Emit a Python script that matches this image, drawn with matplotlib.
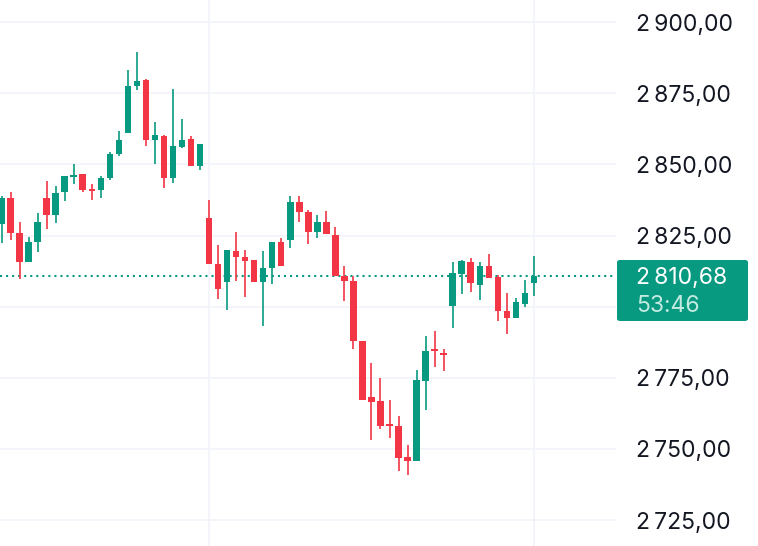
import matplotlib.pyplot as plt
import numpy as np
from matplotlib.patches import FancyBboxPatch

# candle data (index = bar number)
opens = [2829.0, 2838.3, 2825.8, 2815.6, 2822.9, 2838.1, 2832.2, 2840.4, 2845.6, 2846.5,
         2841.3, 2841.0, 2845.1, 2853.6, 2861.2, 2877.5, 2879.7, 2858.5, 2860.0, 2845.1,
         2856.1, 2858.8, 2849.4, 2831.3, 2815.1, 2808.6, 2819.7, 2817.4, 2816.3, 2808.6,
         2813.6, 2822.6, 2823.5, 2836.9, 2833.2, 2826.2, 2829.7, 2825.2, 2810.9, 2809.2,
         2787.9, 2768.1, 2766.7, 2758.8, 2758.2, 2747.2, 2745.6, 2774.0, 2785.3, 2783.9,
         2800.2, 2811.6, 2815.6, 2807.8, 2814.2, 2810.5, 2798.4, 2796.1, 2801.1, 2808.4]
highs = [2839.0, 2840.4, 2829.9, 2824.4, 2833.0, 2844.1, 2842.4, 2846.0, 2850.3, 2846.8,
         2843.0, 2846.0, 2854.3, 2861.7, 2883.2, 2889.6, 2880.0, 2864.9, 2860.2, 2876.5,
         2865.8, 2859.9, 2857.3, 2837.5, 2821.7, 2820.0, 2826.4, 2819.8, 2816.3, 2819.7,
         2822.6, 2824.3, 2838.9, 2838.9, 2834.0, 2832.2, 2833.6, 2828.1, 2814.4, 2810.7,
         2787.9, 2780.1, 2775.1, 2767.2, 2761.7, 2751.5, 2777.7, 2789.7, 2791.4, 2785.3,
         2815.6, 2816.3, 2817.1, 2815.6, 2818.6, 2811.0, 2804.9, 2803.1, 2809.5, 2817.7]
lows = [2822.3, 2823.4, 2809.8, 2815.6, 2819.1, 2827.2, 2829.3, 2837.2, 2843.1, 2840.2,
        2837.5, 2838.3, 2844.7, 2852.9, 2861.2, 2876.3, 2856.4, 2850.3, 2841.6, 2843.5,
        2855.9, 2849.4, 2848.2, 2815.0, 2802.8, 2798.7, 2808.9, 2803.5, 2808.6, 2793.2,
        2808.1, 2814.2, 2820.6, 2829.7, 2822.0, 2824.3, 2825.5, 2810.9, 2801.9, 2785.0,
        2767.3, 2753.0, 2757.1, 2753.9, 2742.1, 2741.0, 2745.6, 2763.8, 2778.8, 2777.4,
        2792.6, 2804.6, 2805.2, 2802.3, 2810.1, 2794.9, 2790.3, 2796.1, 2799.8, 2803.9]
closes = [2838.3, 2825.8, 2815.6, 2822.9, 2829.9, 2832.2, 2840.0, 2845.9, 2846.3, 2841.0,
          2840.7, 2845.4, 2853.8, 2858.5, 2877.7, 2879.4, 2858.5, 2860.2, 2845.1, 2856.4,
          2858.7, 2849.4, 2857.3, 2815.0, 2806.3, 2819.8, 2817.4, 2815.9, 2808.6, 2813.6,
          2822.6, 2814.2, 2836.9, 2833.2, 2826.2, 2829.7, 2825.5, 2810.9, 2808.9, 2787.9,
          2767.3, 2766.6, 2758.2, 2758.0, 2746.8, 2745.6, 2774.2, 2784.4, 2784.3, 2783.0,
          2811.9, 2815.9, 2808.4, 2814.2, 2810.1, 2798.4, 2796.1, 2801.6, 2804.9, 2810.68]

price_ticks = [2725, 2750, 2775, 2800, 2825, 2850, 2875, 2900]
price_labels = ["2\u2009725,00", "2\u2009750,00", "2\u2009775,00", "", "2\u2009825,00",
                "2\u2009850,00", "2\u2009875,00", "2\u2009900,00"]
time_grid = [23, 59]
last_price = "2\u2009810,68"
countdown = "53:46"

UP = "#089981"
DOWN = "#f23645"
GRID = "#f0f3fa"
TEXT = "#131722"

plt.rcParams["font.family"] = ["Inter", "DejaVu Sans"]

fig = plt.figure(figsize=(7.58, 5.46), dpi=100)
ax = fig.add_axes([0, 0, 616 / 758, 1])

o = np.array(opens)
h = np.array(highs)
l = np.array(lows)
c = np.array(closes)
x = np.arange(len(o))
cols = np.where(c >= o, UP, DOWN)

ax.vlines(x, l, h, colors=cols, linewidth=1.2, zorder=3)
body = np.maximum(np.abs(c - o), 0.7)
ax.bar(x, body, bottom=np.minimum(o, c), width=0.72, color=cols, linewidth=0, zorder=3)

for t in price_ticks:
    ax.axhline(t, color=GRID, linewidth=1.1, zorder=0)
for t in time_grid:
    ax.axvline(t, color=GRID, linewidth=1.1, zorder=0)

ax.axhline(closes[-1], color=UP, linewidth=1.5, linestyle=(0, (1, 1.9)), zorder=2)

ax.set_xlim(-0.17, 68.1)
ax.set_ylim(2715.9, 2907.8)

ax.yaxis.tick_right()
ax.set_yticks(price_ticks)
ax.set_yticklabels(price_labels)
ax.tick_params(axis="y", length=0, pad=14.5, labelsize=16.5, labelcolor=TEXT)
ax.tick_params(axis="x", length=0, labelbottom=False)
for lab in ax.get_yticklabels():
    lab.set_verticalalignment("center_baseline")
for s in ax.spines.values():
    s.set_visible(False)

# last price badge
W, H = 758, 546
box = FancyBboxPatch((617 / W, (H - 321) / H), 131 / W, 61 / H,
                     boxstyle="round,pad=0,rounding_size=0.004",
                     transform=fig.transFigure, facecolor=UP, edgecolor="none", zorder=5)
fig.patches.append(box)
fig.text(636 / W, (H - 276) / H, last_price, color="white", fontsize=16.5,
         va="center_baseline", ha="left", zorder=6)
fig.text(636 / W, (H - 304) / H, countdown, color="#c4ebe2", fontsize=16.5,
         va="center_baseline", ha="left", zorder=6)

fig.savefig("out.png", dpi=100)
